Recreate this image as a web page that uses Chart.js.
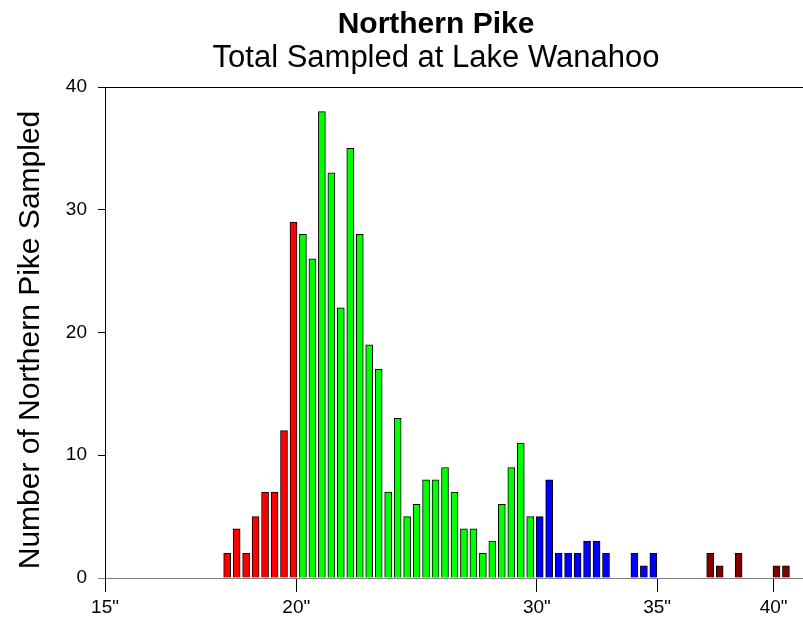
<!DOCTYPE html>
<html>
<head>
<meta charset="utf-8">
<script src="https://cdn.jsdelivr.net/npm/chart.js@4/dist/chart.umd.min.js"></script>
<style>
    body { margin: 0; background: #fff; }
    #wrap { width: 803px; height: 617px; }
</style>
</head>
<body>
<div id="wrap"><canvas id="pikeChart" width="803" height="617"></canvas></div>
<script>
// Length bins (1 cm wide, lower edge in cm) that had fish, and the count in each
const binCm = [43, 44, 45, 46, 47, 48, 49, 50,
    51, 52, 53, 54, 55, 56, 57, 58, 59, 60, 61, 62, 63, 64, 65, 66, 67, 68, 69, 70, 71, 72, 73, 74, 75,
    76, 77, 78, 79, 80, 81, 82, 83, 86, 87, 88,
    94, 95, 97, 101, 102];
const counts = [2, 4, 2, 5, 7, 7, 12, 29,
    28, 26, 38, 33, 22, 35, 28, 19, 17, 7, 13, 5, 6, 8, 8, 9, 7, 4, 4, 2, 3, 6, 9, 11, 5,
    5, 8, 2, 2, 2, 3, 3, 2, 2, 1, 2,
    2, 1, 2, 1, 1];

// Size classes (inches) and their bar colours
const classBreaksIn = [20, 30, 35];
const classColors = ['#ff0000', '#00ff00', '#0000ff', '#800000'];

// Axis labels, placed where the reference puts them (cm positions)
const xTickLabels = ['15"', '20"', '30"', '35"', '40"'];
const xTickCm = [30.6, 50.8, 76.2, 88.9, 101.2];
const yTicks = [0, 10, 20, 30, 40];

const FONT = '"Liberation Sans", Arial, sans-serif';

function sizeClassColor(cm) {
    const inches = cm / 2.54;
    let i = 0;
    while (i < classBreaksIn.length && inches >= classBreaksIn[i]) i++;
    return classColors[i];
}

const points = binCm.map((b, i) => ({ x: b + 0.5, y: counts[i] }));

// Titles and y axis caption, placed like the reference
const titlePlugin = {
    id: 'pikeTitles',
    afterDraw(chart) {
        const ctx = chart.ctx;
        ctx.save();
        ctx.fillStyle = '#000';
        ctx.textAlign = 'center';
        ctx.textBaseline = 'alphabetic';
        ctx.font = 'bold 30px ' + FONT;
        ctx.fillText('Northern Pike', 436, 33);
        ctx.font = '31px ' + FONT;
        ctx.fillText('Total Sampled at Lake Wanahoo', 436, 67);

        ctx.save();
        ctx.translate(31, 340);
        ctx.rotate(-Math.PI / 2);
        ctx.textBaseline = 'middle';
        ctx.font = '30px ' + FONT;
        ctx.fillText('Number of Northern Pike Sampled', 0, 0);
        ctx.restore();

        // top frame line
        const area = chart.chartArea;
        ctx.strokeStyle = '#000';
        ctx.lineWidth = 1;
        ctx.beginPath();
        ctx.moveTo(area.left - 2, area.top + 0.5);
        ctx.lineTo(area.right, area.top + 0.5);
        ctx.stroke();
        ctx.restore();
    }
};

new Chart(document.getElementById('pikeChart'), {
    type: 'bar',
    data: {
        datasets: [{
            label: 'Northern Pike',
            data: points,
            backgroundColor: points.map(p => sizeClassColor(p.x)),
            borderColor: '#000',
            borderWidth: 1,
            borderSkipped: 'start',
            barThickness: 7
        }]
    },
    options: {
        responsive: false,
        animation: false,
        devicePixelRatio: 1,
        layout: { padding: { top: 87, right: 0, bottom: 0, left: 0 } },
        plugins: {
            legend: { display: false },
            tooltip: { enabled: false },
            title: { display: false }
        },
        scales: {
            x: {
                type: 'linear',
                min: 30.6,
                max: 104.3,
                offset: false,
                grid: {
                    offset: false,
                    drawOnChartArea: false,
                    drawTicks: true,
                    tickLength: 14,
                    tickColor: '#000',
                    tickWidth: 1
                },
                border: { color: '#808080', width: 1 },
                afterBuildTicks: scale => {
                    scale.ticks = xTickCm.map(v => ({ value: v }));
                },
                afterFit: scale => { scale.height = 39; },
                ticks: {
                    autoSkip: false,
                    maxRotation: 0,
                    padding: 4,
                    color: '#000',
                    font: { family: FONT, size: 19 },
                    callback: (value, index) => xTickLabels[index]
                }
            },
            y: {
                min: 0,
                max: 40,
                afterBuildTicks: scale => {
                    scale.ticks = yTicks.map(v => ({ value: v }));
                },
                afterFit: scale => { scale.width = 105; },
                grid: {
                    drawOnChartArea: false,
                    tickLength: 7,
                    tickColor: ctx => ctx.tick && ctx.tick.value === 0 ? '#808080' : '#000'
                },
                border: { color: '#000', width: 1 },
                ticks: {
                    padding: 11,
                    color: '#000',
                    font: { family: FONT, size: 19 }
                },
                title: { display: false }
            }
        }
    },
    plugins: [titlePlugin]
});
</script>
</body>
</html>
